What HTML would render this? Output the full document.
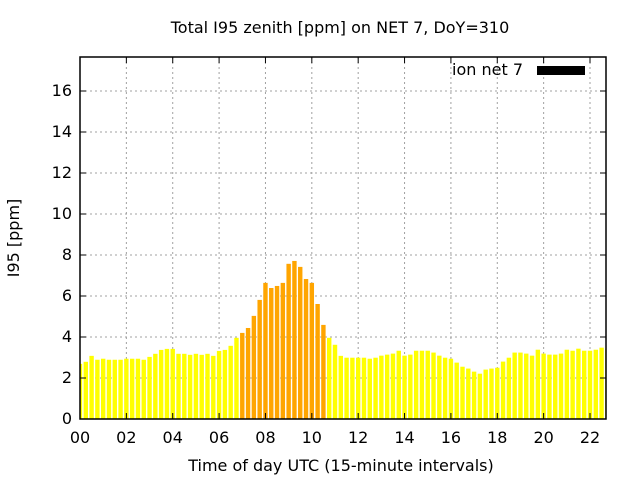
<!DOCTYPE html>
<html><head><meta charset="utf-8"><style>
body{margin:0;background:#fff;}
svg text{font-family:"DejaVu Sans","Liberation Sans",sans-serif;font-size:16px;fill:#000;}
</style></head><body>
<svg id="chart" width="640" height="480" xmlns="http://www.w3.org/2000/svg">
<text x="340" y="33" text-anchor="middle">Total I95 zenith [ppm] on NET 7, DoY=310</text>
<text x="341" y="471" text-anchor="middle">Time of day UTC (15-minute intervals)</text>
<text transform="translate(19,238) rotate(-90)" text-anchor="middle">I95 [ppm]</text>
<g id="grid"></g><g id="bars"></g><g id="axes"></g>
<g>
<text x="523" y="75" text-anchor="end">ion net 7</text>
<rect x="537" y="66" width="48" height="9" fill="#000"/>
</g>
</svg>
<script>
const values=[2.69,2.79,3.08,2.89,2.94,2.89,2.89,2.89,2.94,2.94,2.94,2.89,3.03,3.18,3.37,3.42,3.42,3.18,3.18,3.13,3.18,3.13,3.18,3.08,3.32,3.37,3.57,3.96,4.2,4.44,5.03,5.81,6.64,6.39,6.49,6.64,7.57,7.71,7.42,6.83,6.64,5.61,4.59,3.96,3.62,3.08,2.99,2.99,2.99,2.99,2.94,2.99,3.09,3.14,3.19,3.33,3.09,3.14,3.33,3.33,3.33,3.24,3.09,2.99,2.94,2.75,2.55,2.46,2.31,2.21,2.41,2.46,2.5,2.8,2.99,3.24,3.24,3.19,3.09,3.38,3.19,3.14,3.14,3.19,3.38,3.33,3.43,3.33,3.33,3.38,3.48,3.43];
const highlightStart=7.0, highlightEnd=10.5;
const xTicks=[0,2,4,6,8,10,12,14,16,18,20,22];
const xTickLabels=["00","02","04","06","08","10","12","14","16","18","20","22"];
const yTicks=[0,2,4,6,8,10,12,14,16];
const L=80,R=606,T=57,B=419;
const xMax=22.69, yMax=(B-T)/20.5;
function x(h){return L+h/xMax*(R-L);}
function y(v){return B-v/yMax*(B-T);}
const NS="http://www.w3.org/2000/svg";
function mk(t,a,p){const e=document.createElementNS(NS,t);for(const k in a)e.setAttribute(k,a[k]);p.appendChild(e);return e;}
const grid=document.getElementById('grid'),bars=document.getElementById('bars'),axes=document.getElementById('axes');
yTicks.forEach(v=>{if(v>0){const g=mk('line',{x1:L,x2:R,y1:y(v),y2:y(v),stroke:'#a0a0a0','stroke-dasharray':'2,3'},grid);

}
const t=mk('text',{x:L-8,y:y(v)+5,'text-anchor':'end'},axes);t.textContent=v;


mk('line',{x1:L,x2:L+6,y1:y(v),y2:y(v),stroke:'#000'},axes);
mk('line',{x1:R,x2:R-6,y1:y(v),y2:y(v),stroke:'#000'},axes);});
xTicks.forEach((h,i)=>{if(h>0){const g=mk('line',{x1:x(h),x2:x(h),y1:T,y2:B,stroke:'#a0a0a0','stroke-dasharray':'2,3'},grid);

}
const t=mk('text',{x:x(h),y:B+24,'text-anchor':'middle'},axes);t.textContent=xTickLabels[i];


mk('line',{x1:x(h),x2:x(h),y1:B,y2:B-6,stroke:'#000'},axes);
mk('line',{x1:x(h),x2:x(h),y1:T,y2:T+6,stroke:'#000'},axes);});
const step=x(0.25)-x(0),bw=step*0.76;
values.forEach((v,i)=>{const h=i*0.25;let x0=x(h)-bw/2,x1=x(h)+bw/2;x0=Math.max(x0,L);x1=Math.min(x1,R);if(x1<=x0)return;
const hl=h>=highlightStart&&h<=highlightEnd;
const r=mk('rect',{x:x0,y:y(v),width:x1-x0,height:B-y(v),fill:hl?'#ffa500':'#ffff00'},bars);

});
const f=mk('rect',{x:L,y:T,width:R-L,height:B-T,fill:'none',stroke:'#000','stroke-width':1.5},axes);


</script>
</body></html>
